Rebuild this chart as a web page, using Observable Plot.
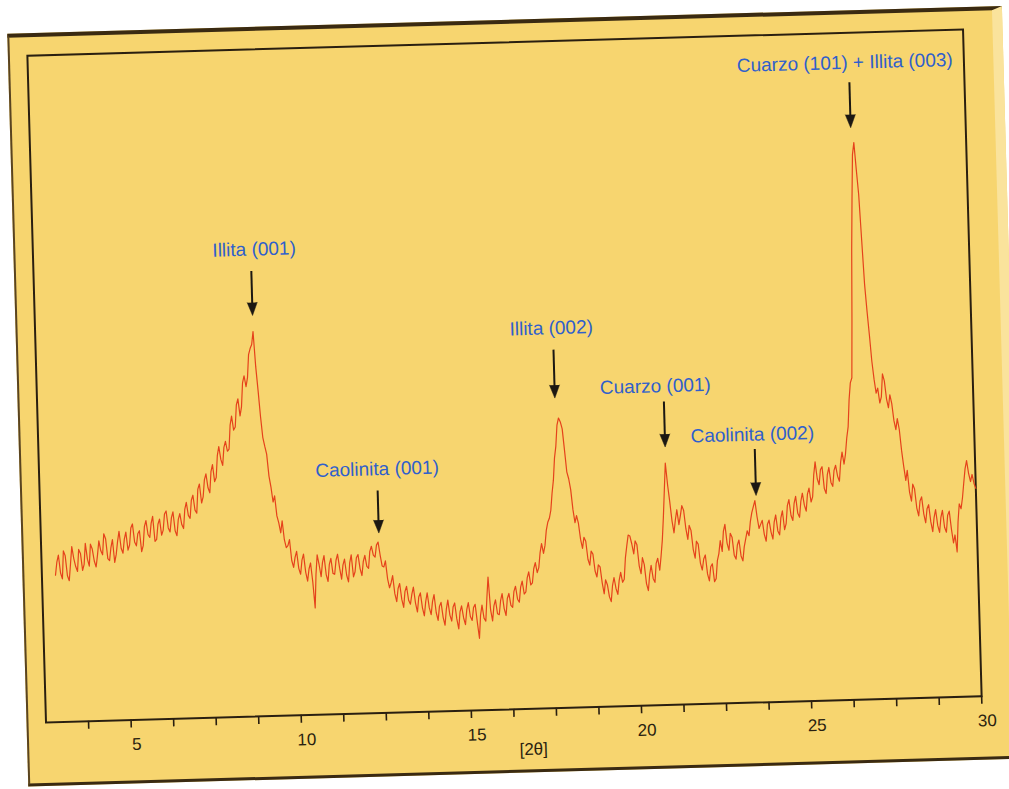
<!DOCTYPE html>
<html><head><meta charset="utf-8">
<script src="https://cdn.jsdelivr.net/npm/d3@7"></script>
<script src="https://cdn.jsdelivr.net/npm/@observablehq/plot@0.6"></script>
<style>
html,body{margin:0;padding:0;background:#fff;width:1009px;height:789px;overflow:hidden;}
#sheet{position:absolute;left:0;top:0;width:1009px;height:789px;transform:rotate(-1.6deg);transform-origin:504px 375.5px;}
#paper{position:absolute;left:17px;top:20px;width:995px;height:753px;background:#f7d56f;border-top:4px solid #3a2a12;border-bottom:3px solid #3a2a12;border-left:2px solid #5a4420;border-right:10px solid #fae39c;box-sizing:border-box;}
#chart{position:absolute;left:0;top:0;}
</style></head><body>
<div id="sheet"><div id="paper"></div><div id="chart"></div></div>
<script>
// XRD scan: 2θ from scanStart in steps of scanStep, intensity in arbitrary counts
const scanStart = 2.9;
const scanStep = 0.05;
const intensity = [
  147,160,167,149,143,171,166,146,141,158,175,163,155,150,172,168,151,157,178,162,
  155,177,172,160,154,166,180,170,166,187,182,162,160,173,181,158,166,179,189,172,
  167,181,188,170,175,192,196,178,174,186,189,168,174,193,199,185,182,196,203,178,
  180,195,200,184,189,205,208,191,187,201,207,188,183,199,205,194,190,209,216,203,
  200,218,223,208,205,229,234,215,221,238,244,230,225,246,253,236,240,262,271,258,
  252,270,276,266,268,292,301,287,290,312,318,301,310,334,341,330,339,362,368,372,
  385,350,326,300,279,270,262,240,229,214,220,200,193,183,195,176,168,170,176,155,
  148,158,164,147,141,155,161,143,134,146,152,133,107,140,160,150,138,152,159,140,
  133,150,156,141,140,154,160,146,135,149,155,139,132,151,159,137,142,156,159,145,
  138,152,158,147,145,162,167,158,156,168,171,158,147,146,152,134,125,130,137,119,
  111,124,129,113,105,121,126,112,108,118,125,109,100,115,119,104,96,110,119,104,
  97,110,117,99,91,105,109,94,86,102,111,96,90,104,108,92,82,99,105,93,
  86,101,108,94,90,103,106,88,72,95,105,92,89,112,133,100,89,104,110,96,
  95,109,116,101,94,111,116,104,102,118,123,110,107,122,128,115,117,131,137,124,
  126,140,146,136,141,156,165,155,163,178,186,190,198,215,228,250,262,283,290,286,
  279,258,236,229,218,198,185,192,184,168,159,170,166,148,142,156,153,136,130,142,
  140,124,113,127,122,110,105,121,129,118,112,126,134,124,127,148,160,171,170,162,
  152,165,161,140,132,148,141,122,115,131,140,127,123,142,147,135,149,165,188,215,
  242,220,203,184,172,185,195,180,189,199,194,176,165,179,174,155,146,163,160,141,
  134,145,149,130,123,137,140,122,125,143,150,163,152,172,179,160,153,170,166,148,
  144,158,163,147,142,156,164,172,167,181,190,196,202,186,174,178,182,168,161,178,
  182,170,163,180,187,171,167,184,191,172,178,196,202,186,181,198,205,188,184,200,
  208,196,190,207,213,199,204,226,239,222,216,231,234,212,207,226,233,218,214,230,
  235,224,219,238,248,236,246,262,273,300,317,322,380,450,500,545,557,530,505,460,
  415,388,364,338,320,306,311,296,302,325,318,300,291,304,295,278,269,280,269,248,
  232,218,228,206,197,214,209,190,182,197,201,184,175,189,193,176,166,180,188,172,
  165,180,187,170,165,182,186,168,154,162,145,175,193,188,199,214,228,236,223,215,
  222,213,208
];

// Peak annotations
const peakLabels = ["Illita (001)", "Caolinita (001)", "Illita (002)", "Cuarzo (001)", "Caolinita (002)", "Cuarzo (101) + Illita (003)"];
const peakTheta  = [8.9, 12.43, 17.71, 20.91, 23.54, 26.62];
const labelTheta = [9.0, 12.43, 17.66, 20.67, 23.48, 26.5];
const labelLevel = [467, 244, 380, 319, 268, 637];
const arrowTop   = [445, 222, 358, 303, 253, 617];
const arrowTip   = [401, 180, 310, 258, 207, 572];

// Axis
const xDomain = [2.5, 30];
const yDomain = [0, 667];
const minorTicks = [3.75,5,6.25,7.5,8.75,10,11.25,12.5,13.75,15,16.25,17.5,18.75,20,21.25,22.5,23.75,25,26.25,27.5,28.75,30];
const majorTicks = [5,10,15,20,25,30];
const axisTitle = ["[2θ]"];
const axisTitleAt = [16.8];

const scan = intensity.map((v, i) => ({theta: +(scanStart + i * scanStep).toFixed(2), counts: v}));
const ann = peakLabels.map((label, i) => ({
  label, x: peakTheta[i], lx: labelTheta[i], ly: labelLevel[i],
  y1: arrowTop[i], y2: arrowTip[i], y2s: arrowTip[i] + 7
}));

const ink = "#2a1f10";
const plot = Plot.plot({
  width: 1009, height: 789,
  marginLeft: 36, marginRight: 37, marginTop: 42, marginBottom: 80,
  style: {background: "transparent", fontFamily: "'Liberation Sans', Arial, sans-serif", color: ink},
  x: {domain: xDomain},
  y: {domain: yDomain, axis: null},
  marks: [
    Plot.frame({stroke: ink, strokeWidth: 2}),
    Plot.axisX({ticks: minorTicks, tickSize: 8, tickFormat: () => "", label: null, strokeWidth: 1.6}),
    Plot.axisX({ticks: majorTicks, tickSize: 0, tickPadding: 18, dx: 5, fontSize: 17, label: null, fill: ink}),
    Plot.text(axisTitle, {x: (d, i) => axisTitleAt[i], text: d => d, frameAnchor: "bottom", dy: 46, fontSize: 17, fill: ink}),
    Plot.line(scan, {x: "theta", y: "counts", stroke: "#e5421b", strokeWidth: 1.2}),
    Plot.ruleX(ann, {x: "x", y1: "y1", y2: "y2s", stroke: "#1c1812", strokeWidth: 2}),
    Plot.vector(ann, {x: "x", y: "y2", length: 13, rotate: 180, anchor: "end", shape: "spike", r: 5, fill: "#1c1812", stroke: "#1c1812", strokeWidth: 0.5}),
    Plot.text(ann, {x: "lx", y: "ly", text: "label", fill: "#2f5fcc", fontSize: 19})
  ]
});
document.getElementById("chart").appendChild(plot);
</script>
</body></html>
